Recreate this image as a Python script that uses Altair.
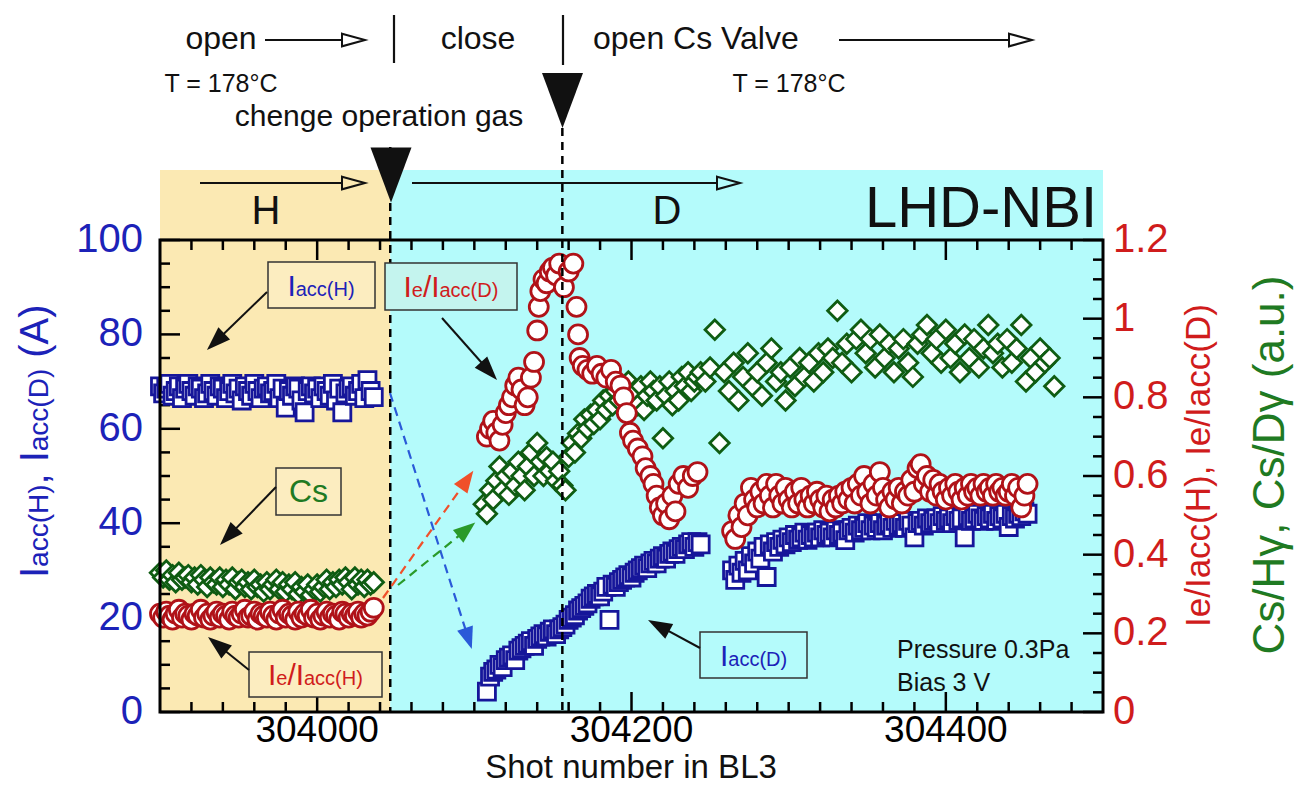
import altair as alt
import pandas as pd

FONT = "Liberation Sans"

# ---------------- data ----------------
# hydrogen phase (shared shot grid)
shots_h = [303900, 303902, 303904, 303906, 303908, 303910, 303912, 303914, 303916, 303918,
           303920, 303922, 303924, 303926, 303928, 303930, 303932, 303934, 303936, 303938,
           303940, 303942, 303944, 303946, 303948, 303950, 303952, 303954, 303956, 303958,
           303960, 303962, 303964, 303966, 303968, 303970, 303972, 303974, 303976, 303978,
           303980, 303982, 303984, 303986, 303988, 303990, 303992, 303994, 303996, 303998,
           304000, 304002, 304004, 304006, 304008, 304010, 304012, 304014, 304016, 304018,
           304020, 304022, 304024, 304026, 304028, 304030, 304032, 304034, 304036]
iacc_h = [69.0, 67.5, 68.5, 69.5, 67.0, 68.0, 69.0, 66.5, 68.5, 69.5,
          68.0, 67.0, 69.0, 68.5, 66.5, 67.5, 69.5, 68.0, 67.0, 69.0,
          68.5, 66.5, 68.0, 69.5, 67.5, 68.5, 66.0, 69.0, 68.0, 67.0,
          69.5, 68.0, 66.5, 68.5, 69.0, 67.5, 68.0, 69.5, 66.5, 68.5,
          64.5, 68.0, 67.0, 69.0, 68.5, 66.0, 63.5, 68.0, 69.0, 67.5,
          68.5, 66.5, 69.0, 68.0, 67.0, 69.5, 66.0, 68.5, 63.5, 67.5,
          68.5, 69.0, 67.0, 68.0, 69.5, 66.5, 70.3, 68.0, 66.7]
cs_h = [29.5, 28.5, 30.0, 28.0, 29.0, 27.5, 29.5, 28.0, 28.5, 29.0,
        27.5, 28.5, 27.0, 29.0, 28.0, 26.5, 28.5, 27.5, 27.0, 28.5,
        26.5, 28.0, 27.0, 28.5, 26.0, 27.5, 28.0, 26.5, 27.5, 26.0,
        28.0, 26.5, 27.0, 25.5, 27.5, 26.0, 27.0, 28.0, 26.0, 27.5,
        25.5, 27.0, 26.0, 27.5, 25.0, 26.5, 25.5, 27.0, 24.8, 26.0,
        27.0, 25.5, 26.5, 28.0, 26.0, 27.5, 26.5, 28.0, 27.0, 28.5,
        27.5, 26.0, 28.5, 27.0, 28.0, 26.5, 28.0, 27.0, 27.5]
ratio_h = [0.25, 0.24, 0.255, 0.245, 0.235, 0.25, 0.26, 0.24, 0.25, 0.245,
           0.235, 0.25, 0.245, 0.26, 0.24, 0.25, 0.235, 0.245, 0.255, 0.24,
           0.25, 0.245, 0.235, 0.255, 0.245, 0.24, 0.25, 0.26, 0.24, 0.245,
           0.255, 0.235, 0.25, 0.245, 0.24, 0.255, 0.245, 0.235, 0.25, 0.26,
           0.24, 0.25, 0.245, 0.235, 0.255, 0.24, 0.25, 0.245, 0.26, 0.24,
           0.25, 0.235, 0.245, 0.255, 0.24, 0.25, 0.245, 0.235, 0.255, 0.25,
           0.24, 0.25, 0.245, 0.255, 0.24, 0.25, 0.245, 0.255, 0.265]

# deuterium phase, first part
shots_iacc_d1 = [304108, 304110, 304112, 304114, 304116, 304118, 304120, 304122, 304124, 304126,
                 304128, 304130, 304132, 304134, 304136, 304138, 304140, 304142, 304144, 304146,
                 304148, 304150, 304152, 304154, 304156, 304158, 304160, 304162, 304164, 304166,
                 304168, 304170, 304172, 304174, 304176, 304178, 304180, 304182, 304184, 304186,
                 304188, 304190, 304192, 304194, 304196, 304198, 304200, 304202, 304204, 304206,
                 304208, 304210, 304212, 304214, 304216, 304218, 304220, 304222, 304224, 304226,
                 304228, 304230, 304232, 304234, 304236, 304238, 304240, 304242, 304244]
iacc_d1 = [4.3, 7.5, 8.5, 9.0, 10.0, 9.5, 11.0, 11.5, 12.0, 11.0,
           13.0, 13.5, 14.0, 14.5, 15.0, 14.0, 15.5, 16.0, 16.5, 16.0,
           17.0, 17.5, 16.5, 17.5, 18.0, 18.5, 19.5, 20.0, 20.5, 21.5,
           22.0, 22.5, 23.0, 24.0, 24.5, 25.0, 24.5, 25.5, 26.5, 19.5,
           27.0, 26.5, 27.5, 28.0, 28.5, 29.0, 28.5, 29.5, 30.0, 30.5,
           31.0, 30.5, 31.5, 32.0, 31.5, 32.5, 33.0, 32.5, 33.5, 34.0,
           33.5, 34.5, 35.0, 34.5, 35.5, 36.0, 35.0, 36.0, 35.5]

shots_ratio_d1 = [304108, 304110, 304112, 304114, 304116, 304118, 304120, 304122, 304124, 304126,
                  304128, 304130, 304132, 304134, 304136, 304138, 304140, 304141, 304142, 304144,
                  304146, 304148, 304150, 304152, 304154, 304157, 304160, 304163, 304165, 304166,
                  304167, 304169, 304172, 304175, 304178, 304181, 304184, 304187, 304190, 304193,
                  304195, 304197, 304199, 304201, 304204, 304207, 304209, 304212, 304214, 304216,
                  304218, 304220, 304222, 304224, 304226, 304228, 304230, 304233, 304236, 304239,
                  304242]
ratio_d1 = [0.70, 0.72, 0.74, 0.71, 0.69, 0.73, 0.76, 0.78, 0.80, 0.83,
            0.85, 0.82, 0.78, 0.80, 0.85, 0.89, 0.97, 1.03, 1.07, 1.10,
            1.09, 1.12, 1.13, 1.11, 1.14, 1.08, 1.12, 1.14, 1.03, 0.96,
            0.90, 0.88, 0.87, 0.86, 0.88, 0.86, 0.85, 0.87, 0.84, 0.83,
            0.80, 0.76, 0.71, 0.69, 0.67, 0.65, 0.62, 0.60, 0.58, 0.55,
            0.52, 0.50, 0.53, 0.49, 0.55, 0.51, 0.58, 0.60, 0.57, 0.60,
            0.61]

shots_cs_d1 = [304106, 304108, 304110, 304112, 304114, 304116, 304118, 304120, 304122, 304124,
               304126, 304128, 304130, 304132, 304134, 304136, 304138, 304140, 304142, 304144,
               304146, 304148, 304150, 304152, 304154, 304156, 304158, 304160, 304162, 304164,
               304166, 304168, 304170, 304172, 304174, 304176, 304178, 304180, 304182, 304184,
               304186, 304188, 304190, 304192, 304194, 304196, 304198, 304200, 304202, 304204,
               304206, 304208, 304210, 304212, 304214, 304216, 304218, 304220, 304222, 304224,
               304226, 304228, 304230, 304232, 304234, 304236, 304238, 304240, 304242, 304244]
cs_d1 = [44, 42, 47, 45, 49, 52, 47, 50, 46, 51,
         48, 53, 50, 47, 52, 55, 50, 57, 53, 50,
         54, 51, 53, 49, 51, 48, 47, 54, 57, 55,
         59, 58, 62, 60, 63, 61, 64, 62, 66, 64,
         67, 65, 68, 66, 69, 67, 70, 66, 68, 65,
         69, 64, 67, 70, 68, 66, 69, 58, 67, 70,
         65, 68, 66, 71, 69, 72, 68, 70, 71, 72]

shots_cs_d2 = [304247, 304250, 304253, 304256, 304259, 304262, 304265, 304268, 304271, 304274,
               304277, 304280, 304283, 304286, 304289, 304292, 304295, 304298, 304301, 304304,
               304307, 304310, 304313, 304316, 304319, 304322, 304325, 304328, 304331, 304334,
               304337, 304340, 304343, 304346, 304349, 304352, 304355, 304358, 304361, 304364,
               304367, 304370, 304373, 304376, 304379, 304382, 304385, 304388, 304391, 304394,
               304397, 304400, 304403, 304406, 304409, 304412, 304415, 304418, 304421, 304424,
               304427, 304430, 304433, 304436, 304439, 304442, 304445, 304448, 304451, 304454,
               304457, 304460, 304463, 304466, 304469]
cs_d2 = [70, 73, 81, 57, 72, 68, 74, 66, 71, 76,
         69, 72, 67, 74, 77, 70, 72, 66, 73, 69,
         75, 71, 74, 70, 76, 72, 77, 75, 85, 74,
         78, 72, 79, 81, 76, 79, 73, 80, 75, 78,
         72, 77, 79, 74, 71, 78, 80, 82, 76, 79,
         74, 81, 75, 78, 72, 80, 75, 79, 73, 77,
         82, 76, 78, 73, 79, 74, 77, 82, 70, 75,
         72, 77, 74, 75, 69]

# deuterium phase, second part (shared shot grid)
shots_d2 = [304264, 304266, 304268, 304270, 304272, 304274, 304276, 304278, 304280, 304282,
            304284, 304286, 304288, 304290, 304292, 304294, 304296, 304298, 304300, 304302,
            304304, 304306, 304308, 304310, 304312, 304314, 304316, 304318, 304320, 304322,
            304324, 304326, 304328, 304330, 304332, 304334, 304336, 304338, 304340, 304342,
            304344, 304346, 304348, 304350, 304352, 304354, 304356, 304358, 304360, 304362,
            304364, 304366, 304368, 304370, 304372, 304374, 304376, 304378, 304380, 304382,
            304384, 304386, 304388, 304390, 304392, 304394, 304396, 304398, 304400, 304402,
            304404, 304406, 304408, 304410, 304412, 304414, 304416, 304418, 304420, 304422,
            304424, 304426, 304428, 304430, 304432, 304434, 304436, 304438, 304440, 304442,
            304444, 304446, 304448, 304450, 304452]
iacc_d2 = [30, 28, 31, 29.5, 32, 30, 33, 31.5, 34, 32.5,
           35, 28.6, 35.5, 34, 36, 35, 36.5, 35.5, 37, 36,
           37.5, 36.5, 37, 38, 36.5, 37.5, 37, 38, 37, 38.5,
           37.5, 38, 37, 38.5, 37.5, 38, 36.4, 38.5, 39, 38,
           39.5, 38.5, 39, 40, 38.5, 39.5, 39, 40, 38.5, 39.5,
           40, 39, 40.5, 39.5, 40, 39, 40.5, 39.5, 37, 40,
           40.5, 39.5, 41, 40, 40.5, 41, 40, 41.5, 40.5, 41,
           40, 41.5, 40.5, 41, 37, 41.5, 40.5, 41, 42, 41,
           40.5, 41.5, 41, 42, 40.5, 41.5, 41, 42, 39.2, 41.5,
           41, 42, 41.5, 42.5, 42]
ratio_d2 = [0.46, 0.44, 0.50, 0.47, 0.53, 0.50, 0.57, 0.54, 0.52, 0.56,
            0.53, 0.58, 0.55, 0.52, 0.58, 0.55, 0.53, 0.57, 0.54, 0.52,
            0.56, 0.53, 0.57, 0.54, 0.52, 0.55, 0.53, 0.56, 0.54, 0.52,
            0.55, 0.51, 0.54, 0.52, 0.55, 0.53, 0.56, 0.54, 0.57, 0.53,
            0.58, 0.55, 0.60, 0.56, 0.53, 0.58, 0.55, 0.61, 0.57, 0.54,
            0.52, 0.56, 0.54, 0.57, 0.53, 0.56, 0.55, 0.59, 0.56, 0.62,
            0.63, 0.58, 0.60, 0.56, 0.59, 0.55, 0.58, 0.56, 0.54, 0.57,
            0.55, 0.58, 0.56, 0.54, 0.57, 0.55, 0.58, 0.56, 0.57, 0.55,
            0.58, 0.56, 0.57, 0.55, 0.58, 0.56, 0.57, 0.55, 0.56, 0.58,
            0.55, 0.57, 0.52, 0.55, 0.58]

# axis ticks and tick labels
x_major = [304000, 304200, 304400]
x_major_labels = ["304000", "304200", "304400"]
x_minor = [303920, 303940, 303960, 303980, 304020, 304040, 304060, 304080, 304100, 304120,
           304140, 304160, 304180, 304220, 304240, 304260, 304280, 304300, 304320, 304340,
           304360, 304380, 304420, 304440, 304460, 304480]
left_major = [0, 20, 40, 60, 80, 100]
left_labels = ["0", "20", "40", "60", "80", "100"]
left_minor = [5, 10, 15, 25, 30, 35, 45, 50, 55, 65, 70, 75, 85, 90, 95]
right_major = [0, 0.2, 0.4, 0.6, 0.8, 1.0, 1.2]
right_labels = ["0", "0.2", "0.4", "0.6", "0.8", "1", "1.2"]
right_minor = [0.05, 0.1, 0.15, 0.25, 0.3, 0.35, 0.45, 0.5, 0.55, 0.65, 0.7, 0.75,
               0.85, 0.9, 0.95, 1.05, 1.1, 1.15]
gas_change_shot = 304046.5
valve_open_shot = 304156

# ---------------- styling ----------------
BLUE = "#16169a"
RED = "#b01218"
GREEN = "#0f5c12"
BLUE_TXT = "#1c22b8"
RED_TXT = "#d01c1c"
GREEN_TXT = "#1f7a22"
YELLOW_BG = "#fbe9b3"
CYAN_BG = "#b4fbfb"
DBLUE = "#2a5ad8"
DRED = "#f0502a"
DGREEN = "#2a9a2a"
BLACK = "#111111"

W, H = 943, 472
OX, OY = 160, 240  # page position of the plot origin

xs = alt.Scale(domain=[303900, 304500], nice=False, zero=False)
yl = alt.Scale(domain=[0, 100], nice=False, zero=False)
yr = alt.Scale(domain=[0, 1.2], nice=False, zero=False)

blue_df = pd.DataFrame({"shot": shots_h + shots_iacc_d1 + shots_d2,
                        "v": iacc_h + iacc_d1 + iacc_d2})
green_df = pd.DataFrame({"shot": shots_h + shots_cs_d1 + shots_cs_d2,
                         "v": cs_h + cs_d1 + cs_d2})
red_df = pd.DataFrame({"shot": shots_h + shots_ratio_d1 + shots_d2,
                       "r": ratio_h + ratio_d1 + ratio_d2})

PX = lambda f: alt.X(f, scale=None, axis=None)
PY = lambda f: alt.Y(f, scale=None, axis=None)
NOC = lambda f: alt.Color(f, scale=None, legend=None)
SX = lambda f: alt.X(f, scale=xs, axis=None)


def frame(rows, cols):
    df = pd.DataFrame(rows, columns=cols)
    for c in cols:
        if c in ("x", "x2"):
            df[c] = df[c] - OX
        if c in ("y", "y2"):
            df[c] = df[c] - OY
    return df


def texts(rows, align, baseline):
    df = frame(rows, ["t", "x", "y", "fs", "c", "ang"])
    return alt.Chart(df).mark_text(align=align, baseline=baseline, font=FONT).encode(
        x=PX("x:Q"), y=PY("y:Q"), text="t:N",
        size=alt.Size("fs:Q", scale=None, legend=None),
        color=NOC("c:N"),
        angle=alt.Angle("ang:Q", scale=None, legend=None))


def segments(rows, width, dash=None):
    df = frame(rows, ["x", "y", "x2", "y2", "c"])
    mk = dict(strokeWidth=width)
    if dash:
        mk["strokeDash"] = dash
    return alt.Chart(df).mark_rule(**mk).encode(
        x=PX("x:Q"), y=PY("y:Q"), x2=alt.X2("x2:Q"), y2=alt.Y2("y2:Q"), color=NOC("c:N"))


def heads(rows, shape, filled, sw=2.0):
    df = frame(rows, ["x", "y", "ang", "sz", "c"])
    return alt.Chart(df).mark_point(shape=shape, filled=filled, opacity=1, strokeWidth=sw).encode(
        x=PX("x:Q"), y=PY("y:Q"),
        angle=alt.Angle("ang:Q", scale=None, legend=None),
        size=alt.Size("sz:Q", scale=None, legend=None),
        color=NOC("c:N"))


def hticks(vals, scale, x0, x1):
    return alt.Chart(pd.DataFrame({"t": vals})).mark_rule(color="black", strokeWidth=2.5).encode(
        y=alt.Y("t:Q", scale=scale, axis=None), x=alt.value(x0), x2=alt.value(x1))


def vticks(vals, y0, y1):
    return alt.Chart(pd.DataFrame({"t": vals})).mark_rule(color="black", strokeWidth=2.5).encode(
        x=SX("t:Q"), y=alt.value(y0), y2=alt.value(y1))


# tick labels drawn through the scales
left_tick_text = alt.Chart(pd.DataFrame({"t": left_major, "s": left_labels})).mark_text(
    align="right", baseline="middle", fontSize=40, color=BLUE_TXT, font=FONT).encode(
    y=alt.Y("t:Q", scale=yl, axis=None), x=alt.value(-17), text="s:N")
right_tick_text = alt.Chart(pd.DataFrame({"t": right_major, "s": right_labels})).mark_text(
    align="left", baseline="middle", fontSize=40, color=RED_TXT, font=FONT).encode(
    y=alt.Y("t:Q", scale=yr, axis=None), x=alt.value(W + 10), text="s:N")
bottom_tick_text = alt.Chart(pd.DataFrame({"t": x_major, "s": x_major_labels})).mark_text(
    align="center", baseline="top", fontSize=37, color="black", font=FONT).encode(
    x=SX("t:Q"), y=alt.value(H + 1), text="s:N")

# ---------------- left-scale group ----------------
bg_df = pd.DataFrame({"shot": [303900, gas_change_shot], "shot_end": [gas_change_shot, 304500],
                      "c": [YELLOW_BG, CYAN_BG]})
bg = alt.Chart(bg_df).mark_rect().encode(
    x=SX("shot:Q"), x2="shot_end:Q",
    y=alt.value(170 - OY), y2=alt.value(H), color=NOC("c:N"))

blue = alt.Chart(blue_df).mark_point(
    shape="square", size=290, fill="white", stroke=BLUE, strokeWidth=2.8,
    opacity=1, fillOpacity=1).encode(
    x=SX("shot:Q"), y=alt.Y("v:Q", scale=yl, axis=None))

green = alt.Chart(green_df).mark_point(
    shape="diamond", size=380, fill="white", stroke=GREEN, strokeWidth=2.8,
    opacity=1, fillOpacity=1).encode(
    x=SX("shot:Q"), y=alt.Y("v:Q", scale=yl, axis=None))

group_left = alt.layer(
    bg,
    hticks(left_major, yl, 0, 20), hticks(left_minor, yl, 0, 10),
    vticks(x_major, H, H - 20), vticks(x_minor, H, H - 10),
    vticks(x_major, 0, 20), vticks(x_minor, 0, 10),
    left_tick_text, bottom_tick_text,
    blue, green,
)

# ---------------- right-scale group + annotations ----------------
red = alt.Chart(red_df).mark_point(
    shape="circle", size=360, fill="white", stroke=RED, strokeWidth=2.8,
    opacity=1, fillOpacity=1).encode(
    x=SX("shot:Q"), y=alt.Y("r:Q", scale=yr, axis=None))

dash_gas = alt.Chart(pd.DataFrame({"shot": [gas_change_shot]})).mark_rule(
    color="black", strokeWidth=2.5, strokeDash=[8, 6]).encode(
    x=SX("shot:Q"), y=alt.value(147 - OY), y2=alt.value(H))
dash_valve = alt.Chart(pd.DataFrame({"shot": [valve_open_shot]})).mark_rule(
    color="black", strokeWidth=2.5, strokeDash=[8, 6]).encode(
    x=SX("shot:Q"), y=alt.value(128 - OY), y2=alt.value(H))

border = alt.Chart(pd.DataFrame({"k": [0]})).mark_rect(
    fillOpacity=0, stroke="black", strokeWidth=3).encode(
    x=alt.value(0), x2=alt.value(W), y=alt.value(0), y2=alt.value(H))

boxes_df = frame([
    (268, 262, 375, 308, "#fcedc0"),
    (385, 263, 517, 310, "#c4f4ee"),
    (276, 468, 341, 515, "#fcedc0"),
    (249, 652, 382, 697, "#fcedc0"),
    (700, 632, 807, 678, CYAN_BG),
], ["x", "y", "x2", "y2", "c"])
boxes = alt.Chart(boxes_df).mark_rect(stroke="#333333", strokeWidth=1.5).encode(
    x=PX("x:Q"), y=PY("y:Q"), x2=alt.X2("x2:Q"), y2=alt.Y2("y2:Q"), color=NOC("c:N"))

UP_HEAD = "M0,-1L0.7,1L-0.7,1Z"
UP_HEAD_N = "M0,-1L0.75,1L-0.75,1Z"
RIGHT_OPEN = "M-1,-0.55L1,0L-1,0.55Z"
DOWN_TRI = "M-0.745,-1L0.745,-1L0,1Z"

solid_arrows = segments([
    (267, 292, 215.6, 341.7, BLACK),
    (276, 487, 228.3, 536.4, BLACK),
    (249, 670, 217.3, 644.5, BLACK),
    (442, 318, 489, 371, BLACK),
    (700, 648, 658.6, 625.7, BLACK),
], 2)
solid_heads = heads([
    (215.6, 341.7, 226, 576, BLACK),
    (228.3, 536.4, 224, 576, BLACK),
    (217.3, 644.5, 309, 576, BLACK),
    (489, 371, 138, 576, BLACK),
    (658.6, 625.7, 298, 576, BLACK),
], UP_HEAD, True)

dashed_arrows = segments([
    (390, 393, 468.4, 638.6, DBLUE),
    (383, 598, 467, 479.8, DRED),
    (398, 585, 466.7, 529.5, DGREEN),
], 2.2, dash=[9, 6])
dashed_heads = heads([
    (468.4, 638.6, 162, 484, DBLUE),
    (467, 479.8, 35, 484, DRED),
    (466.7, 529.5, 51, 484, DGREEN),
], UP_HEAD_N, True)

top_lines = segments([
    (265, 40, 342, 40, BLACK),
    (839, 40, 1009, 40, BLACK),
    (200, 183, 342, 183, BLACK),
    (412, 183, 717, 183, BLACK),
    (394, 15, 394, 63, BLACK),
    (563, 15, 563, 65, BLACK),
], 2.2)
open_heads = heads([
    (353.5, 40, 0, 529, BLACK),
    (1020.5, 40, 0, 529, BLACK),
    (353.5, 183, 0, 529, BLACK),
    (728.5, 183, 0, 529, BLACK),
], RIGHT_OPEN, False, 2.0)
big_triangles = heads([
    (562.5, 100.5, 0, 3025, BLACK),
    (391, 175, 0, 3025, BLACK),
], DOWN_TRI, True)

center_texts = texts([
    ("open", 221, 39, 32, BLACK, 0),
    ("close", 478, 39, 32, BLACK, 0),
    ("T = 178°C", 221, 84, 25, BLACK, 0),
    ("T = 178°C", 789, 84, 25, BLACK, 0),
    ("chenge operation gas", 379, 117, 30, BLACK, 0),
    ("H", 266, 212, 40, BLACK, 0),
    ("D", 667, 212, 40, BLACK, 0),
    ("Cs", 308.5, 492, 32, GREEN_TXT, 0),
], "center", "middle")
xtitle = texts([
    ("Shot number in BL3", 631, 778, 33, BLACK, 0),
], "center", "alphabetic")
left_texts = texts([
    ("open Cs Valve", 593, 39, 32, BLACK, 0),
    ("Pressure 0.3Pa", 897, 650, 25, BLACK, 0),
    ("Bias 3 V", 897, 683, 25, BLACK, 0),
], "left", "middle")
right_texts = texts([
    ("LHD-NBI", 1097, 210, 58, BLACK, 0),
], "right", "middle")
sub_texts = texts([
    ("I", 287.4, 296, 30, BLUE_TXT, 0), ("acc(H)", 295.7, 296, 20, BLUE_TXT, 0),
    ("I", 403.5, 297, 30, RED_TXT, 0), ("e", 411.8, 297, 20, RED_TXT, 0),
    ("/", 422.9, 297, 30, RED_TXT, 0), ("I", 431.2, 297, 30, RED_TXT, 0),
    ("acc(D)", 439.5, 297, 20, RED_TXT, 0),
    ("I", 268, 685, 30, RED_TXT, 0), ("e", 276.3, 685, 20, RED_TXT, 0),
    ("/", 287.4, 685, 30, RED_TXT, 0), ("I", 295.7, 685, 30, RED_TXT, 0),
    ("acc(H)", 304, 685, 20, RED_TXT, 0),
    ("I", 720, 666, 30, BLUE_TXT, 0), ("acc(D)", 728.3, 666, 20, BLUE_TXT, 0),
    # rotated left axis title
    ("I", 48, 578, 40, BLUE_TXT, 270), ("acc(H)", 48, 566.9, 28, BLUE_TXT, 270),
    (",", 48, 484.5, 40, BLUE_TXT, 270), ("I", 48, 462.3, 40, BLUE_TXT, 270),
    ("acc(D)", 48, 451.2, 28, BLUE_TXT, 270), ("(A)", 48, 357.7, 40, BLUE_TXT, 270),
    # rotated right axis title
    ("Ie/Iacc(H), Ie/Iacc(D)", 1210, 627, 35, RED_TXT, 270),
], "left", "alphabetic")
green_title = texts([
    ("Cs/Hγ, Cs/Dγ (a.u.)", 1284, 465, 44, GREEN_TXT, 270),
], "center", "alphabetic")

group_right = alt.layer(
    hticks(right_major, yr, W, W - 20), hticks(right_minor, yr, W, W - 10),
    right_tick_text,
    red,
    dash_gas, dash_valve,
    border,
    boxes,
    dashed_arrows, dashed_heads,
    solid_arrows, solid_heads,
    top_lines, open_heads, big_triangles,
    center_texts, xtitle, left_texts, right_texts, sub_texts, green_title,
)

chart = alt.layer(group_left, group_right).resolve_scale(y="independent").properties(
    width=W, height=H,
    autosize=alt.AutoSizeParams(type="none"),
    padding={"left": 152, "top": 232, "right": 191, "bottom": 73},
).configure(font=FONT)

chart.save("out.html", embed_options={"renderer": "svg", "actions": False})
